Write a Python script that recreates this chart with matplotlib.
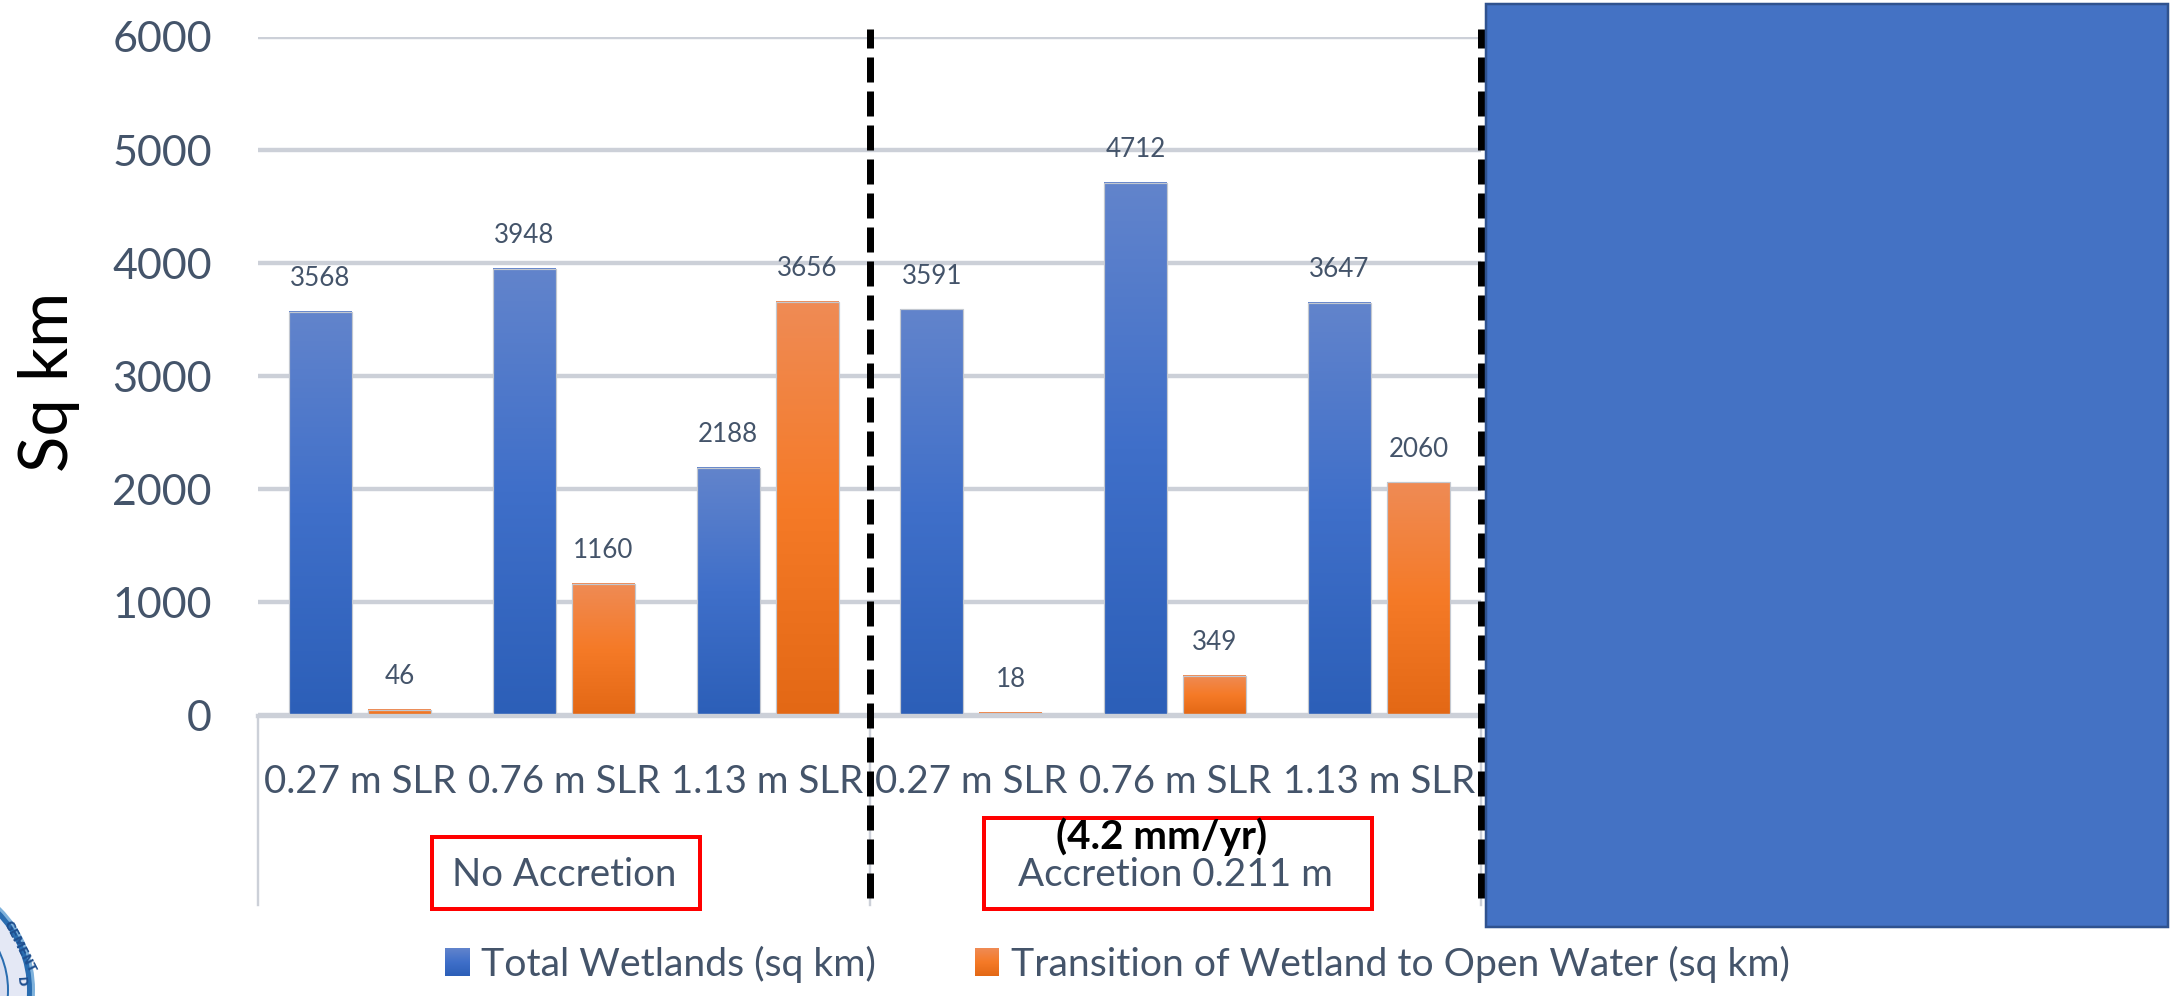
import numpy as np
import matplotlib
matplotlib.use('Agg')
import matplotlib.pyplot as plt
from matplotlib.colors import LinearSegmentedColormap
from matplotlib.patches import Rectangle, Circle

W, H = 2178, 996
dpi = 100
px = 72.0 / dpi  # one pixel in points

slr_labels = ['0.27 m SLR', '0.76 m SLR', '1.13 m SLR', '0.27 m SLR', '0.76 m SLR', '1.13 m SLR']
total_wetlands = [3568, 3948, 2188, 3591, 4712, 3647]
to_open_water = [46, 1160, 3656, 18, 349, 2060]
y_ticks = [0, 1000, 2000, 3000, 4000, 5000, 6000]
series_names = ['Total Wetlands (sq km)', 'Transition of Wetland to Open Water (sq km)']

TEXT = '#44546a'
GRID = '#ccd0d8'
FONT = 'Lato'
blues = LinearSegmentedColormap.from_list('b', ['#6284cc', '#3f6fc9', '#2c5fb8'])
oranges = LinearSegmentedColormap.from_list('o', ['#ef8b55', '#f57a27', '#e36815'])
grad = np.linspace(0, 1, 256).reshape(-1, 1)

fig = plt.figure(figsize=(W / dpi, H / dpi), dpi=dpi)

# chart area, 258..1481 px across and 37..715 px down
ax = fig.add_axes([258 / W, 1 - 715 / H, (1481 - 258) / W, (715 - 37) / H])
for s in ax.spines.values():
    s.set_visible(False)
ax.yaxis.grid(True, color=GRID, lw=4.4 * px, zorder=1)
ax.set_axisbelow(True)


def gradient_bars(xs, values, cmap):
    for x, v in zip(xs, values):
        ax.imshow(grad, cmap=cmap, aspect='auto', zorder=3,
                  extent=(x - width / 2, x + width / 2, 0, v))
        ax.add_patch(Rectangle((x - width / 2, 0), width, v, fc='none', ec='#c3c8d0',
                               lw=1.2 * px, zorder=4))
        ax.annotate(str(v), (x, v), xytext=(0, 33 * px), textcoords='offset points',
                    ha='center', va='center', fontsize=26 * px, color=TEXT, family=FONT)


x = np.arange(len(slr_labels))
width = 0.309
gradient_bars(x - 0.194, total_wetlands, blues)
gradient_bars(x + 0.194, to_open_water, oranges)

ax.set_xlim(-0.5, 5.5)
ax.set_ylim(0, 6000)
ax.set_yticks(y_ticks)
ax.set_xticks(x)
ax.set_xticklabels(slr_labels, fontsize=38.5 * px, color=TEXT, family=FONT)
ax.set_yticklabels([str(v) for v in y_ticks], fontsize=43 * px, color=TEXT, family=FONT)
ax.tick_params(axis='x', length=0, pad=49 * px)
ax.tick_params(axis='y', length=0, pad=46 * px)

# overlay in pixel coordinates for the slide annotations
ov = fig.add_axes([0, 0, 1, 1], zorder=5)
ov.set_xlim(0, W)
ov.set_ylim(H, 0)
ov.axis('off')
ov.patch.set_alpha(0)

ov.plot([258, 1481], [716, 716], color=GRID, lw=4.4 * px)
for xp in [258, 870, 1481]:
    ov.plot([xp, xp], [716, 905], color=GRID, lw=2.4 * px, zorder=1)
for xp in [870, 1481]:
    ov.plot([xp, xp], [29, 898], color='black', lw=7 * px, ls=(6 / 7, (25 / 7, 9 / 7)),
            dash_capstyle='butt', zorder=2)

ov.add_patch(Rectangle((1486, 4), 682, 923, fc='#4472c4', ec='#2f528f', lw=2.5 * px, zorder=3))
ov.add_patch(Rectangle((432, 837), 268, 72, fc='none', ec='#ff0000', lw=4 * px))
ov.add_patch(Rectangle((984, 818), 388, 91, fc='none', ec='#ff0000', lw=4 * px))
ov.text(564, 875, 'No Accretion', fontsize=38.4 * px, color=TEXT, family=FONT, ha='center', va='center')
ov.text(1175, 875, 'Accretion 0.211 m', fontsize=38.6 * px, color=TEXT, family=FONT, ha='center', va='center')
ov.text(1162, 837, '(4.2 mm/yr)', fontsize=40.4 * px, color='black', family=FONT, weight='bold',
        ha='center', va='center')
ov.text(49, 382, 'Sq km', fontsize=67 * px, color='black', family=FONT, rotation=90,
        ha='center', va='center')

# legend
ov.imshow(grad, cmap=blues, aspect='auto', extent=(445, 470, 976, 948), zorder=3)
ov.imshow(grad, cmap=oranges, aspect='auto', extent=(975, 999, 976, 948), zorder=3)
ov.set_xlim(0, W)
ov.set_ylim(H, 0)
ov.text(481, 964, series_names[0], fontsize=39.2 * px, color=TEXT, family=FONT, va='center')
ov.text(1011, 964, series_names[1], fontsize=39.1 * px, color=TEXT, family=FONT, va='center')

# corner of the seal
for r, c in [(116, '#7fb2dc'), (113, '#2a6db0'), (108, '#e4e8f5'), (90, '#2a6db0'), (88, '#d9def0')]:
    ov.add_patch(Circle((-81, 990), r, fc=c, ec='none', zorder=2))
ov.text(19, 947, 'GEMENT', fontsize=12 * px, color='#1f4f8f', weight='bold', rotation=-63,
        ha='center', va='center', zorder=3)
ov.text(21, 982, 'D', fontsize=12 * px, color='#1f4f8f', weight='bold', rotation=-85,
        ha='center', va='center', zorder=3)

fig.savefig('out.png', dpi=dpi)
